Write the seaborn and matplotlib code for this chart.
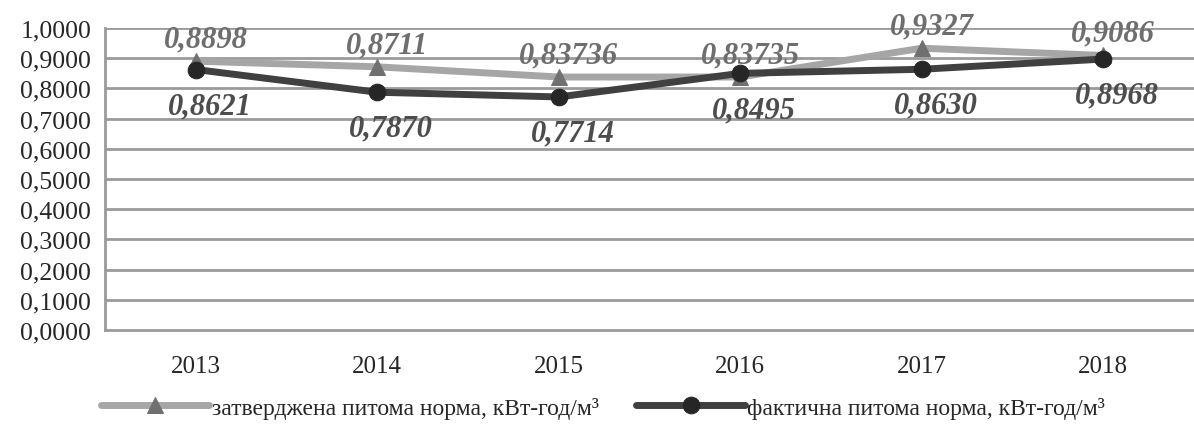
import matplotlib
matplotlib.use("Agg")
import matplotlib.pyplot as plt
import numpy as np
import pandas as pd
import seaborn as sns

years = ["2013", "2014", "2015", "2016", "2017", "2018"]
approved = [0.8898, 0.8711, 0.83736, 0.83735, 0.9327, 0.9086]
actual = [0.8621, 0.7870, 0.7714, 0.8495, 0.8630, 0.8968]
approved_labels = ["0,8898", "0,8711", "0,83736", "0,83735", "0,9327", "0,9086"]
actual_labels = ["0,8621", "0,7870", "0,7714", "0,8495", "0,8630", "0,8968"]
name_approved = "затверджена питома норма, кВт-год/м³"
name_actual = "фактична питома норма, кВт-год/м³"

sns.set_style("white")
plt.rcParams["font.family"] = ["Liberation Serif", "DejaVu Serif"]

df = pd.DataFrame({"pos": np.arange(len(years)), "approved": approved, "actual": actual})

fig = plt.figure(figsize=(11.94, 4.31), dpi=100)
ax = fig.add_axes([0.088, 0.232, 0.912, 0.701])

grid_c = "#9a9a9a"
ax.set_ylim(0, 1.0)
ax.set_xlim(-0.5, len(years) - 0.5)
yt = np.arange(0, 1.0001, 0.1)
ax.set_yticks(yt)
ax.set_yticklabels([f"{v:.4f}".replace(".", ",") for v in yt], fontsize=18.5)
for v in yt[1:]:
    ax.axhline(v, color=grid_c, lw=2, zorder=0)

sns.lineplot(data=df, x="pos", y="approved", ax=ax, color="#a6a6a6", lw=5,
             marker="^", markersize=15, markerfacecolor="#707070",
             markeredgecolor="#707070", label=name_approved, zorder=3)
sns.lineplot(data=df, x="pos", y="actual", ax=ax, color="#404040", lw=5,
             marker="o", markersize=15, markerfacecolor="#262626",
             markeredgecolor="#262626", label=name_actual, zorder=4)

for i, (v, t) in enumerate(zip(approved, approved_labels)):
    ax.annotate(t, (i, v), xytext=(7, 16), textcoords="offset points",
                ha="center", va="center", fontsize=22, fontweight="bold",
                fontstyle="italic", color="#6e6e6e", zorder=5)
for i, (v, t) in enumerate(zip(actual, actual_labels)):
    ax.annotate(t, (i, v), xytext=(10, -26), textcoords="offset points",
                ha="center", va="center", fontsize=22, fontweight="bold",
                fontstyle="italic", color="#4d4d4d", zorder=5)

ax.set_xticks(range(len(years)))
ax.set_xticklabels(years, fontsize=18)
ax.set_xticks(np.arange(-0.5, len(years)), minor=True)
ax.tick_params(axis="x", which="major", length=0, pad=18)
ax.tick_params(axis="x", which="minor", length=8, width=2, color=grid_c)
ax.tick_params(axis="y", length=6, width=2, color=grid_c, pad=4)
ax.set_xlabel("")
ax.set_ylabel("")

for s in ["top", "right"]:
    ax.spines[s].set_visible(False)
for s in ["left", "bottom"]:
    ax.spines[s].set_color(grid_c)
    ax.spines[s].set_linewidth(2)

ax.legend_.remove()
h, l = ax.get_legend_handles_labels()
for hd in h:
    hd.set_markersize(12)
fig.legend(h, l, loc="center", bbox_to_anchor=(0.505, 0.052), ncol=2,
           frameon=False, fontsize=17, handlelength=4.6, handletextpad=0.1,
           columnspacing=1.6)

fig.savefig("out.png", dpi=100)
